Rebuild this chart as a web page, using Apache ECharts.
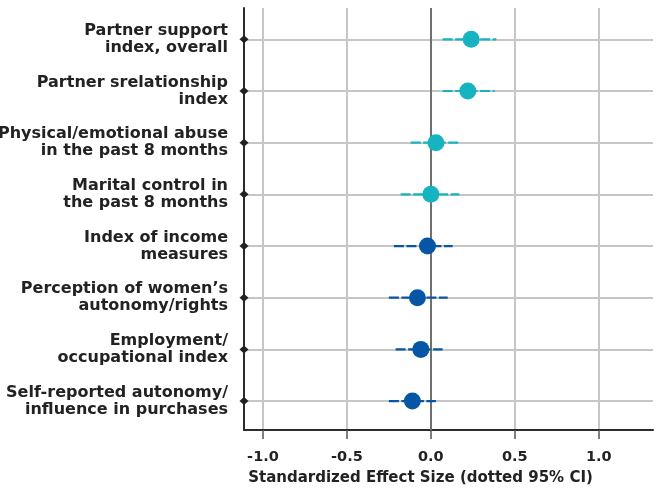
<!DOCTYPE html>
<html>
<head>
<meta charset="utf-8">
<style>
  html, body { margin: 0; padding: 0; background: #ffffff; }
  #chart { width: 662px; height: 491px; }
</style>
<script src="https://cdn.jsdelivr.net/npm/echarts@6/dist/echarts.min.js"></script>
</head>
<body>
<div id="chart"></div>
<script>
// Outcome measures, listed top to bottom
const categories = [
  'Partner support\nindex, overall',
  'Partner srelationship\nindex',
  'Physical/emotional abuse\nin the past 8 months',
  'Marital control in\nthe past 8 months',
  'Index of income\nmeasures',
  'Perception of women\u2019s\nautonomy/rights',
  'Employment/\noccupational index',
  'Self-reported autonomy/\ninfluence in purchases'
];
// Standardized effect sizes and 95% confidence bounds
const estimates = [0.24, 0.22, 0.03, 0.00, -0.02, -0.08, -0.06, -0.11];
const ciLow     = [0.07, 0.07, -0.12, -0.18, -0.22, -0.25, -0.21, -0.25];
const ciHigh    = [0.39, 0.38, 0.17, 0.17, 0.13, 0.10, 0.07, 0.03];
// Domain of each measure: 0 = partner relationship, 1 = economic empowerment
const domain    = [0, 0, 0, 0, 1, 1, 1, 1];
const xTicks    = [-1.0, -0.5, 0.0, 0.5, 1.0];
const xName     = 'Standardized Effect Size (dotted 95% CI)';

const domainColors = ['#16b4c1', '#0656a5'];
const X_MIN = -1.113, X_MAX = 1.323;
const rowIdx = categories.map((_, i) => i);
const FONT = '"DejaVu Sans", Verdana, sans-serif';

const chart = echarts.init(document.getElementById('chart'), null, { renderer: 'canvas' });

chart.setOption({
  animation: false,
  backgroundColor: '#ffffff',
  grid: { left: 244, right: 9, top: 8, bottom: 61, containLabel: false, outerBoundsMode: 'none' },
  xAxis: {
    type: 'value',
    min: X_MIN,
    max: X_MAX,
    axisLine: { show: true, onZero: false, lineStyle: { color: '#2b2b2b', width: 2 } },
    axisTick: { show: true, customValues: xTicks, length: 9, lineStyle: { color: '#555', width: 1.5 } },
    axisLabel: {
      customValues: xTicks,
      formatter: v => v.toFixed(1),
      color: '#222', fontFamily: FONT, fontWeight: 'bold', fontSize: 14.5, margin: 20
    },
    splitLine: { show: true, lineStyle: { color: '#c6c6c6', width: 2 } },
    name: xName,
    nameLocation: 'middle',
    nameGap: 41,
    nameTextStyle: { color: '#222', fontFamily: FONT, fontWeight: 'bold', fontSize: 15, padding: [0, 56, 0, 0] }
  },
  yAxis: {
    type: 'value',
    inverse: true,
    min: -0.606,
    max: 7.56,
    axisLine: { show: true, onZero: false, lineStyle: { color: '#2b2b2b', width: 2 } },
    axisTick: { show: false, customValues: rowIdx },
    axisLabel: {
      customValues: rowIdx,
      formatter: v => categories[Math.round(v)] || '',
      color: '#222', fontFamily: FONT, fontWeight: 'bold', fontSize: 16,
      lineHeight: 17, align: 'right', margin: 16, padding: [0, 0, 7, 0]
    },
    splitLine: { show: true, lineStyle: { color: '#c6c6c6', width: 2 } }
  },
  series: [
    {
      // diamond markers on the category axis
      type: 'scatter',
      silent: true,
      clip: false,
      symbol: 'diamond',
      symbolSize: [9, 8],
      itemStyle: { color: '#222', opacity: 1 },
      data: rowIdx.map(i => [X_MIN, i]),
      z: 5,
      markLine: {
        silent: true,
        symbol: 'none',
        label: { show: false },
        lineStyle: { color: '#707070', width: 2, type: 'solid' },
        data: [{ xAxis: 0 }]
      }
    },
    {
      // confidence interval bars
      type: 'custom',
      silent: true,
      data: rowIdx.map(i => [ciLow[i], ciHigh[i], i, domain[i]]),
      renderItem: (params, api) => {
        const a = api.coord([api.value(0), api.value(2)]);
        const b = api.coord([api.value(1), api.value(2)]);
        return {
          type: 'line',
          shape: { x1: a[0], y1: a[1], x2: b[0], y2: b[1] },
          style: { stroke: domainColors[api.value(3)], lineWidth: 2.2, lineDash: [10, 2.5] }
        };
      },
      z: 6
    },
    {
      // point estimates
      type: 'scatter',
      symbol: 'circle',
      symbolSize: 17,
      itemStyle: { opacity: 1 },
      data: rowIdx.map(i => ({ value: [estimates[i], i], itemStyle: { color: domainColors[domain[i]], opacity: 1 } })),
      z: 7
    }
  ]
});
</script>
</body>
</html>
